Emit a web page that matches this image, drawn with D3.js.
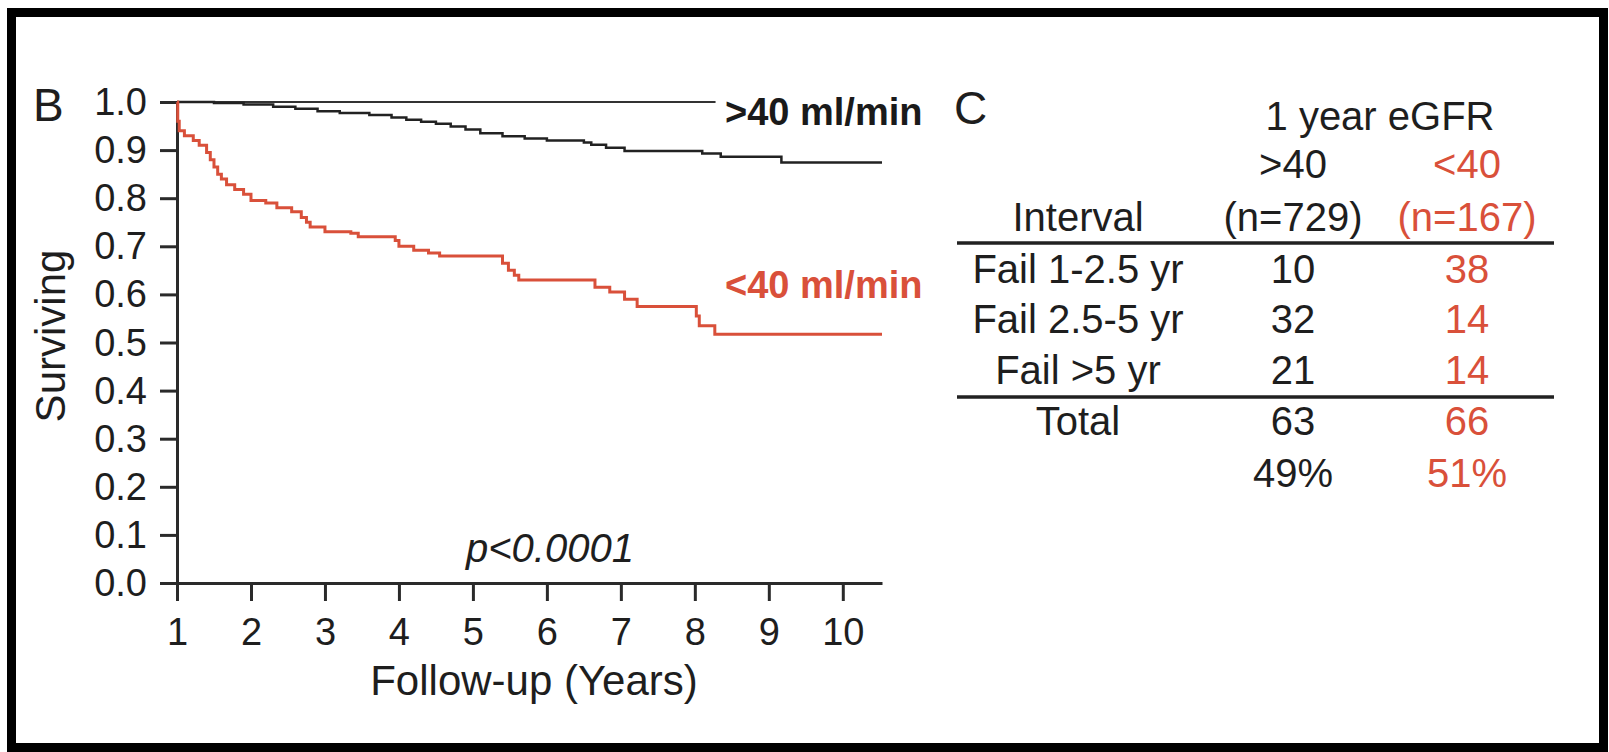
<!DOCTYPE html>
<html>
<head>
<meta charset="utf-8">
<script src="https://cdn.jsdelivr.net/npm/d3@7"></script>
<style>
  body { margin: 0; background: #fff; }
  svg { display: block; font-family: "Liberation Sans", Arial, sans-serif; }
</style>
</head>
<body>
<div id="chart"></div>
<script>
// Kaplan-Meier steps (follow-up year, proportion surviving)
var above40Time = [1.00, 1.50, 1.90, 2.30, 2.60, 2.90, 3.20, 3.60, 3.90, 4.10, 4.30, 4.50, 4.70, 4.90, 5.10, 5.40, 5.70, 6.00, 6.50, 6.60, 6.80, 7.05, 8.10, 8.35, 9.17, 10.53];
var above40Surv = [1.000, 0.998, 0.995, 0.990, 0.986, 0.981, 0.977, 0.973, 0.968, 0.963, 0.959, 0.955, 0.949, 0.943, 0.935, 0.929, 0.924, 0.920, 0.916, 0.911, 0.905, 0.898, 0.893, 0.886, 0.874, 0.874];

var below40Time = [1.00, 1.01, 1.03, 1.10, 1.22, 1.30, 1.40, 1.45, 1.50, 1.55, 1.60, 1.67, 1.78, 1.90, 2.00, 2.20, 2.35, 2.55, 2.68, 2.75, 2.80, 3.00, 3.35, 3.45, 3.95, 4.00, 4.20, 4.40, 4.55, 5.40, 5.48, 5.56, 5.62, 6.65, 6.85, 7.05, 7.22, 8.02, 8.06, 8.27, 10.53];
var below40Surv = [1.000, 0.960, 0.940, 0.930, 0.920, 0.910, 0.895, 0.880, 0.865, 0.850, 0.840, 0.828, 0.818, 0.808, 0.795, 0.790, 0.780, 0.772, 0.760, 0.750, 0.740, 0.730, 0.727, 0.720, 0.712, 0.700, 0.692, 0.686, 0.680, 0.665, 0.650, 0.640, 0.630, 0.615, 0.605, 0.590, 0.575, 0.555, 0.535, 0.517, 0.517];

var xTicks = [1, 2, 3, 4, 5, 6, 7, 8, 9, 10];
var yTicks = [0, 0.1, 0.2, 0.3, 0.4, 0.5, 0.6, 0.7, 0.8, 0.9, 1.0];

// Table C
var tableGroups = [">40", "<40"];
var tableN = ["(n=729)", "(n=167)"];
var intervalLabels = ["Fail 1-2.5 yr", "Fail 2.5-5 yr", "Fail >5 yr"];
var failAbove40 = [10, 32, 21];
var failBelow40 = [38, 14, 14];
var totals = [63, 66];
var percents = ["49%", "51%"];

var red = "#d9503a";
var ink = "#1e1e1e";

var svg = d3.select("#chart").append("svg")
    .attr("width", 1609)
    .attr("height", 752);

// outer frame
svg.append("rect")
    .attr("x", 11.5).attr("y", 12.5)
    .attr("width", 1592).attr("height", 735)
    .attr("fill", "none")
    .attr("stroke", "#000")
    .attr("stroke-width", 9);

// ---- panel B: survival curves ----
var x = d3.scaleLinear().domain([1, 10.53]).range([177, 882]);
var y = d3.scaleLinear().domain([0, 1]).range([583, 102]);

var xAxis = svg.append("g")
    .attr("transform", "translate(0," + y(0) + ")")
    .call(d3.axisBottom(x).tickValues(xTicks).tickSize(18).tickSizeOuter(0).tickPadding(17).tickFormat(d3.format("d")));

var yAxis = svg.append("g")
    .attr("transform", "translate(" + x(1) + ",0)")
    .call(d3.axisLeft(y).tickValues(yTicks).tickSize(17).tickSizeOuter(0).tickPadding(13).tickFormat(d3.format(".1f")));

[xAxis, yAxis].forEach(function(g) {
    g.select(".domain").attr("stroke", "#2a2a2a").attr("stroke-width", 3);
    g.selectAll(".tick line").attr("stroke", "#2a2a2a").attr("stroke-width", 3);
    g.selectAll(".tick text")
        .attr("fill", ink)
        .style("font-size", "38px")
        .style("font-family", "'Liberation Sans', Arial, sans-serif");
});
yAxis.selectAll(".tick text").attr("dy", "0.33em");

// thin line along 1.0
svg.append("line")
    .attr("x1", x(1)).attr("x2", x(8.28))
    .attr("y1", y(1)).attr("y2", y(1))
    .attr("stroke", "#333")
    .attr("stroke-width", 2);

var line = d3.line()
    .x(function(d) { return x(d[0]); })
    .y(function(d) { return y(d[1]); })
    .curve(d3.curveStepAfter);

svg.append("path")
    .datum(d3.zip(above40Time, above40Surv))
    .attr("fill", "none")
    .attr("stroke", "#222")
    .attr("stroke-width", 2.5)
    .attr("d", line);

svg.append("path")
    .datum(d3.zip(below40Time, below40Surv))
    .attr("fill", "none")
    .attr("stroke", red)
    .attr("stroke-width", 3)
    .attr("d", line);

// curve labels
svg.append("text")
    .attr("x", 725).attr("y", 125)
    .style("font-size", "38px").style("font-weight", "bold")
    .attr("fill", "#1a1a1a")
    .text(">40 ml/min");

svg.append("text")
    .attr("x", 725).attr("y", 298)
    .style("font-size", "38px").style("font-weight", "bold")
    .attr("fill", red)
    .text("<40 ml/min");

svg.append("text")
    .attr("x", 550).attr("y", 562)
    .attr("text-anchor", "middle")
    .style("font-size", "40px").style("font-style", "italic")
    .attr("fill", ink)
    .text("p<0.0001");

// axis titles
svg.append("text")
    .attr("transform", "translate(65,336) rotate(-90)")
    .attr("text-anchor", "middle")
    .style("font-size", "42px")
    .attr("fill", ink)
    .text("Surviving");

svg.append("text")
    .attr("x", 534).attr("y", 695)
    .attr("text-anchor", "middle")
    .style("font-size", "42px")
    .attr("fill", ink)
    .text("Follow-up (Years)");

// panel letters
svg.append("text")
    .attr("x", 33).attr("y", 121)
    .style("font-size", "46px")
    .attr("fill", ink)
    .text("B");

svg.append("text")
    .attr("x", 954).attr("y", 124)
    .style("font-size", "46px")
    .attr("fill", ink)
    .text("C");

// ---- panel C: table ----
var col = d3.scaleOrdinal().domain(["label", ">40", "<40"]).range([1078, 1293, 1467]);
var rowY = d3.scaleOrdinal()
    .domain(["title", "group", "n", "r0", "r1", "r2", "total", "pct"])
    .range([130, 178, 231, 283, 333, 384, 435, 487]);
var colColor = { "label": ink, ">40": ink, "<40": red };

var table = svg.append("g")
    .style("font-size", "40px")
    .attr("text-anchor", "middle");

function cell(c, r, txt) {
    table.append("text")
        .attr("x", col(c))
        .attr("y", rowY(r))
        .attr("fill", colColor[c])
        .text(txt);
}

table.append("text")
    .attr("x", (col(">40") + col("<40")) / 2)
    .attr("y", rowY("title"))
    .attr("fill", ink)
    .text("1 year eGFR");

tableGroups.forEach(function(g) { cell(g, "group", g); });
cell("label", "n", "Interval");
tableGroups.forEach(function(g, i) { cell(g, "n", tableN[i]); });

intervalLabels.forEach(function(lbl, i) {
    cell("label", "r" + i, lbl);
    cell(">40", "r" + i, failAbove40[i]);
    cell("<40", "r" + i, failBelow40[i]);
});

cell("label", "total", "Total");
tableGroups.forEach(function(g, i) { cell(g, "total", totals[i]); });
tableGroups.forEach(function(g, i) { cell(g, "pct", percents[i]); });

[243, 397].forEach(function(ly) {
    svg.append("line")
        .attr("x1", 957).attr("x2", 1554)
        .attr("y1", ly).attr("y2", ly)
        .attr("stroke", "#222")
        .attr("stroke-width", 3.5);
});
</script>
</body>
</html>
